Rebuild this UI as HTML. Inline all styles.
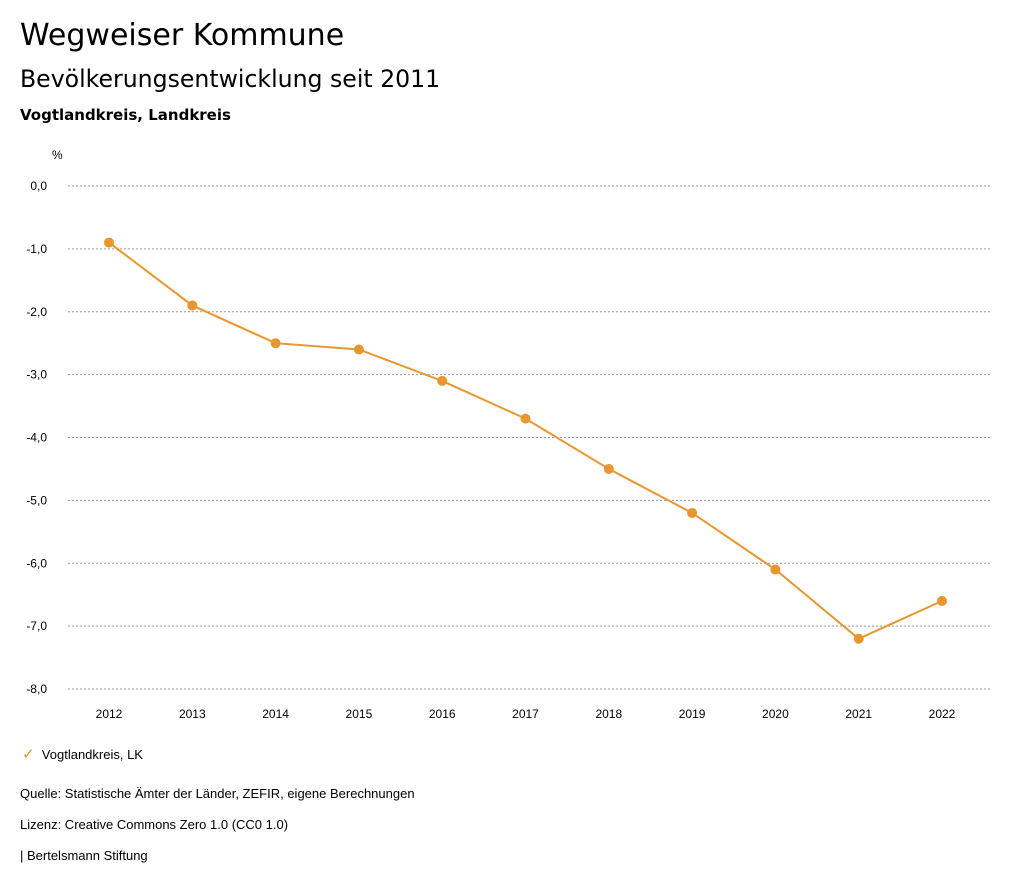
<!DOCTYPE html>
<html><head><meta charset="utf-8"><style>
body{margin:0;background:#fff;width:1024px;height:888px;overflow:hidden;font-family:"Liberation Sans",sans-serif;color:#000}
.t{position:absolute;white-space:nowrap}
</style></head><body>
<div class="t" style="left:20px;top:18px;font:30px 'DejaVu Sans',sans-serif">Wegweiser Kommune</div>
<div class="t" style="left:20px;top:65px;font:23.6px 'DejaVu Sans',sans-serif">Bevölkerungsentwicklung seit 2011</div>
<div class="t" style="left:20px;top:106px;font:bold 15px 'DejaVu Sans',sans-serif">Vogtlandkreis, Landkreis</div>
<svg id="chart" width="1024" height="888" style="position:absolute;left:0;top:0"></svg>
<div class="t" style="left:22px;top:745px;font-size:13px"><span style="color:#e8962e;font-size:15px">✓</span>&nbsp;&nbsp;Vogtlandkreis, LK</div>
<div class="t" style="left:20px;top:786px;font-size:13px">Quelle: Statistische Ämter der Länder, ZEFIR, eigene Berechnungen</div>
<div class="t" style="left:20px;top:817px;font-size:13px">Lizenz: Creative Commons Zero 1.0 (CC0 1.0)</div>
<div class="t" style="left:20px;top:848px;font-size:13px">| Bertelsmann Stiftung</div>
<script>
const years=[2012,2013,2014,2015,2016,2017,2018,2019,2020,2021,2022];
const values=[-0.9,-1.9,-2.5,-2.6,-3.1,-3.7,-4.5,-5.2,-6.1,-7.2,-6.6];
const yTicks=[0,-1,-2,-3,-4,-5,-6,-7,-8];
const yTickLabels=["0,0","-1,0","-2,0","-3,0","-4,0","-5,0","-6,0","-7,0","-8,0"];
const NS="http://www.w3.org/2000/svg",svg=document.getElementById('chart');
const y=v=>186+(0-v)*(689-186)/8;
const x=i=>109+i*(942-109)/(years.length-1);
function mk(t,a){const e=document.createElementNS(NS,t);for(const k in a)e.setAttribute(k,a[k]);svg.appendChild(e);return e;}
let u=mk('text',{x:52,y:159,'font-size':12,'font-family':'Liberation Sans,sans-serif'});u.textContent='%';


yTicks.forEach((v,i)=>{
 const l=mk('line',{x1:68,x2:990,y1:y(v),y2:y(v),stroke:'#999','stroke-dasharray':'2,2'});
 
 
 const t=mk('text',{x:47,y:y(v)+4,'text-anchor':'end','font-size':12,'font-family':'Liberation Sans,sans-serif'});t.textContent=yTickLabels[i];
 
 
});
years.forEach((yr,i)=>{
 const t=mk('text',{x:x(i),y:718,'text-anchor':'middle','font-size':12,'font-family':'Liberation Sans,sans-serif'});t.textContent=yr;
 
 
});
const p=mk('polyline',{points:values.map((v,i)=>x(i)+','+y(v)).join(' '),fill:'none',stroke:'#e8962e','stroke-width':2});


values.forEach((v,i)=>{
 const c=mk('circle',{cx:x(i),cy:y(v),r:5,fill:'#e8962e'});
 
 
});
</script>
</body></html>
